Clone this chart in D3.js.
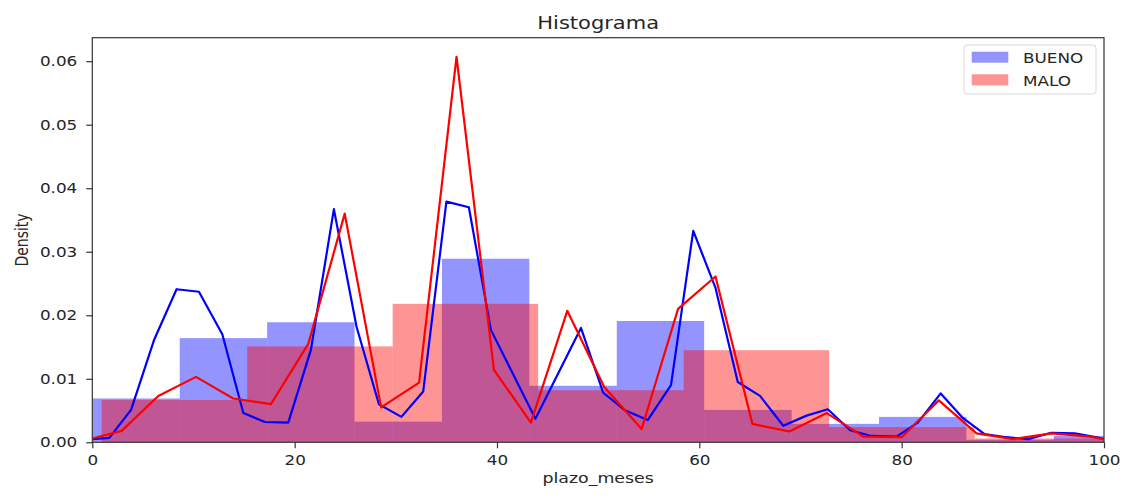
<!DOCTYPE html>
<html>
<head>
<meta charset="utf-8">
<script src="https://cdn.jsdelivr.net/npm/d3@7"></script>
<style>
  html, body { margin: 0; padding: 0; background: #fff; }
  svg { display: block; font-family: "DejaVu Sans", sans-serif; }
  .sx { transform-box: fill-box; transform: scaleX(1.2); }
</style>
</head>
<body>
<svg id="chart" width="1128" height="500"></svg>
<script>
// Histogram bin edges and densities for each group
const buenoEdges = [0, 8.64, 17.28, 25.92, 34.56, 43.2, 51.84, 60.48, 69.12, 77.76, 86.4, 95.04, 103.68];
const buenoDensity = [0.0069, 0.0164, 0.0189, 0.00325, 0.0289, 0.0089, 0.0191, 0.0051, 0.0029, 0.0040, 0.0004, 0.0010];
const maloEdges = [0.93, 15.31, 29.69, 44.07, 58.45, 72.83, 87.21, 101.59];
const maloDensity = [0.00666, 0.0151, 0.0218, 0.0082, 0.0145, 0.0024, 0.0006];

// Density curves (plazo_meses, density)
const buenoCurveX = [0, 1.68, 3.83, 6.1, 8.33, 10.54, 12.85, 14.93, 17.06, 19.37, 21.6, 23.88, 26.12, 28.33, 30.55, 32.71, 35.0, 37.22, 39.4, 43.8, 48.3, 50.5, 52.7, 54.9, 57.2, 59.4, 61.6, 63.8, 66.0, 68.3, 70.6, 72.7, 74.9, 77.0, 79.5, 81.6, 83.86, 86.07, 88.2, 90.36, 92.5, 94.8, 97.1, 99.3, 100];
const buenoCurveY = [0.0005, 0.0007, 0.0051, 0.0161, 0.0241, 0.0237, 0.0170, 0.0046, 0.0032, 0.0031, 0.0145, 0.0367, 0.0182, 0.0060, 0.0040, 0.0080, 0.0379, 0.0370, 0.0177, 0.0037, 0.0180, 0.0078, 0.0050, 0.0035, 0.0090, 0.0333, 0.0243, 0.0095, 0.0073, 0.0026, 0.0042, 0.0052, 0.0019, 0.0010, 0.0009, 0.0031, 0.0077, 0.0038, 0.0013, 0.0008, 0.0005, 0.0015, 0.0014, 0.0008, 0.0005];
const maloCurveX = [0, 2.9, 6.52, 10.25, 13.93, 17.66, 21.35, 24.95, 28.55, 32.3, 36.0, 39.7, 43.35, 46.95, 50.6, 54.3, 57.9, 61.6, 65.25, 68.9, 72.6, 76.2, 80.0, 83.67, 87.4, 91.0, 94.8, 98.6, 100];
const maloCurveY = [0.0006, 0.0018, 0.0073, 0.0103, 0.0069, 0.0060, 0.0155, 0.0360, 0.0055, 0.0094, 0.0607, 0.0114, 0.0031, 0.0207, 0.0087, 0.0021, 0.0210, 0.0261, 0.0029, 0.0017, 0.0046, 0.0009, 0.0008, 0.0066, 0.0014, 0.0005, 0.0014, 0.0009, 0.0005];

// Axis ticks and labels
const xTicks = [0, 20, 40, 60, 80, 100];
const yTicks = [0, 0.01, 0.02, 0.03, 0.04, 0.05, 0.06];
const series = ["BUENO", "MALO"];
const titleText = "Histograma";
const xLabel = "plazo_meses";
const yLabel = "Density";

const svg = d3.select("#chart");
const pLeft = 92.3, pRight = 1104, pTop = 37.7, pBottom = 442.3;
const x = d3.scaleLinear().domain([0, 100]).range([pLeft, pRight]);
const y = d3.scaleLinear().domain([0, 0.0637]).range([pBottom, pTop]);
const textColor = "#262626";
const blue = "#0000ff", red = "#ff0000", barAlpha = 0.42;

svg.append("defs").append("clipPath").attr("id", "plot")
  .append("rect").attr("x", pLeft).attr("y", pTop)
  .attr("width", pRight - pLeft).attr("height", pBottom - pTop);

const plot = svg.append("g").attr("clip-path", "url(#plot)");

function bars(edges, dens, color) {
  const bins = dens.map((d, i) => ({ x0: edges[i], x1: edges[i + 1], d }));
  plot.append("g").selectAll("rect").data(bins).join("rect")
    .attr("x", b => x(b.x0))
    .attr("width", b => x(b.x1) - x(b.x0))
    .attr("y", b => y(b.d))
    .attr("height", b => y(0) - y(b.d))
    .attr("fill", color).attr("fill-opacity", barAlpha);
}
bars(buenoEdges, buenoDensity, blue);
bars(maloEdges, maloDensity, red);

const line = d3.line().x(p => x(p[0])).y(p => y(p[1]));
function curve(xs, ys, color) {
  plot.append("path").datum(xs.map((v, i) => [v, ys[i]]))
    .attr("d", line).attr("fill", "none")
    .attr("stroke", color).attr("stroke-width", 2.2)
    .attr("stroke-linejoin", "round");
}
curve(buenoCurveX, buenoCurveY, blue);
curve(maloCurveX, maloCurveY, red);

// Axes
const xAxis = svg.append("g").attr("transform", `translate(0,${pBottom})`)
  .call(d3.axisBottom(x).tickValues(xTicks).tickFormat(d3.format("d"))
    .tickSize(6).tickSizeOuter(0).tickPadding(6.5));
xAxis.selectAll("text").attr("class", "sx").style("transform-origin", "center");

const yAxis = svg.append("g").attr("transform", `translate(${pLeft},0)`)
  .call(d3.axisLeft(y).tickValues(yTicks).tickFormat(d3.format(".2f"))
    .tickSize(6).tickSizeOuter(0).tickPadding(9));
yAxis.selectAll("text").attr("class", "sx").style("transform-origin", "right center");

[xAxis, yAxis].forEach(a => {
  a.select(".domain").remove();
  a.selectAll("line").attr("stroke", "#333").attr("stroke-width", 1.2);
  a.selectAll("text").attr("fill", textColor).style("font-size", "14px")
    .style("font-family", "DejaVu Sans");
});

// Frame
svg.append("rect").attr("x", pLeft).attr("y", pTop)
  .attr("width", pRight - pLeft).attr("height", pBottom - pTop)
  .attr("fill", "none").attr("stroke", "#333").attr("stroke-width", 1.2);

// Title and axis labels
svg.append("text").attr("transform", `translate(${(pLeft + pRight) / 2},29.3) scale(1.2,1)`)
  .attr("text-anchor", "middle").attr("fill", textColor)
  .style("font-size", "17.5px").text(titleText);
svg.append("text").attr("transform", `translate(${(pLeft + pRight) / 2},483.3) scale(1.2,1)`)
  .attr("text-anchor", "middle").attr("fill", textColor)
  .style("font-size", "14.5px").text(xLabel);
svg.append("text").attr("transform", `translate(28.3,${(pTop + pBottom) / 2}) scale(1.2,1) rotate(-90)`)
  .attr("text-anchor", "middle").attr("fill", textColor)
  .style("font-size", "14px").text(yLabel);

// Legend
const lg = svg.append("g");
lg.append("rect").attr("x", 964).attr("y", 45).attr("width", 132).attr("height", 49)
  .attr("rx", 3).attr("fill", "#fff").attr("fill-opacity", 0.8)
  .attr("stroke", "#d9d9d9").attr("stroke-width", 1);
const colors = [blue, red];
series.forEach((s, i) => {
  const yy = 51.7 + i * 22.6;
  lg.append("rect").attr("x", 971.7).attr("y", yy).attr("width", 36.6).attr("height", 11)
    .attr("fill", colors[i]).attr("fill-opacity", barAlpha);
  lg.append("text").attr("transform", `translate(1023,${yy + 11.3}) scale(1.2,1)`)
    .attr("fill", textColor).style("font-size", "14px").text(s);
});
</script>
</body>
</html>
